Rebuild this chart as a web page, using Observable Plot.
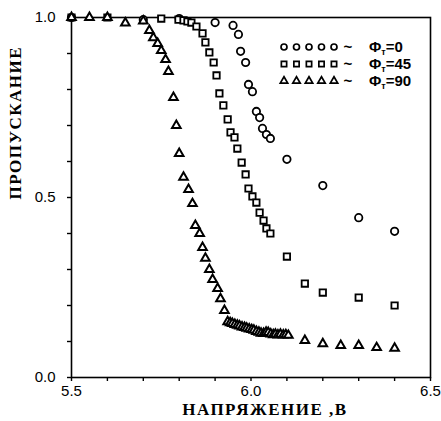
<!DOCTYPE html>
<html>
<head>
<meta charset="utf-8">
<script src="https://cdn.jsdelivr.net/npm/d3@7"></script>
<script src="https://cdn.jsdelivr.net/npm/@observablehq/plot@0.6"></script>
<style>
  html, body { margin: 0; padding: 0; background: #fff; }
  #chart { position: relative; width: 441px; height: 421px; }
</style>
</head>
<body>
<div id="chart"></div>
<script>
// ---- data (voltage in V, transmission) ----
const circV = [5.50, 5.70, 5.80, 5.90, 5.95, 5.965, 5.971, 5.985, 5.993, 6.004, 6.015, 6.024, 6.032, 6.043, 6.054, 6.10, 6.20, 6.30, 6.40];
const circT = [1.00, 0.994, 0.997, 0.986, 0.978, 0.953, 0.906, 0.875, 0.814, 0.794, 0.739, 0.722, 0.692, 0.675, 0.664, 0.606, 0.533, 0.444, 0.406];

const sqV = [5.50, 5.60, 5.75, 5.798, 5.812, 5.823, 5.834, 5.848, 5.865, 5.873, 5.884, 5.896, 5.904, 5.912, 5.923, 5.935, 5.943, 5.954, 5.962, 5.974, 5.985, 5.993, 6.004, 6.015, 6.024, 6.035, 6.043, 6.054, 6.10, 6.15, 6.20, 6.30, 6.40];
const sqT = [1.00, 1.00, 0.997, 0.994, 0.992, 0.989, 0.986, 0.975, 0.956, 0.931, 0.903, 0.875, 0.839, 0.789, 0.756, 0.717, 0.681, 0.667, 0.636, 0.597, 0.564, 0.525, 0.503, 0.486, 0.458, 0.436, 0.414, 0.400, 0.336, 0.261, 0.236, 0.222, 0.200];

const triV = [5.50, 5.55, 5.60, 5.65, 5.70, 5.717, 5.728, 5.74, 5.75, 5.762, 5.77, 5.784, 5.792, 5.80, 5.812, 5.826, 5.837, 5.845, 5.857, 5.865, 5.873, 5.884, 5.893, 5.907, 5.915, 5.926,
  5.935, 5.942, 5.948, 5.955, 5.962, 5.968, 5.975, 5.982, 5.988, 5.995, 6.002, 6.008, 6.015, 6.022, 6.028, 6.035, 6.042, 6.048, 6.055, 6.062, 6.068, 6.075, 6.082, 6.090, 6.097, 6.104,
  6.15, 6.20, 6.25, 6.30, 6.35, 6.40];
const triT = [1.00, 1.00, 1.00, 0.985, 0.99, 0.964, 0.944, 0.928, 0.908, 0.883, 0.85, 0.778, 0.70, 0.622, 0.556, 0.522, 0.483, 0.422, 0.40, 0.361, 0.331, 0.30, 0.272, 0.247, 0.219, 0.186,
  0.155, 0.152, 0.150, 0.147, 0.145, 0.143, 0.140, 0.139, 0.137, 0.135, 0.133, 0.131, 0.128, 0.126, 0.123, 0.122, 0.126, 0.125, 0.121, 0.119, 0.120, 0.118, 0.120, 0.118, 0.119, 0.117,
  0.103, 0.094, 0.089, 0.089, 0.083, 0.081];

const xTicks = [5.5, 5.6, 5.7, 5.8, 5.9, 6.0, 6.1, 6.2, 6.3, 6.4, 6.5];
const xTickLabels = ["5.5", "", "", "", "", "6.0", "", "", "", "", "6.5"];
const yTicks = [0, 0.1, 0.2, 0.3, 0.4, 0.5, 0.6, 0.7, 0.8, 0.9, 1.0];
const yTickLabels = ["0.0", "", "", "", "", "0.5", "", "", "", "", "1.0"];

const xTitle = "НАПРЯЖЕНИЕ ,В";
const yTitle = "ПРОПУСКАНИЕ";
const legendNames = ["0", "45", "90"];
const legendSymbols = ["circle", "square", "triangle"];

// ---- build ----
const zip = (V, T) => V.map((v, i) => ({v, t: T[i]}));
const circ = zip(circV, circT), sq = zip(sqV, sqT), tri = zip(triV, triT);

const sans = "Liberation Sans, Arial, sans-serif";
const serif = "Liberation Serif, Times New Roman, serif";
const dotStyle = {x: "v", y: "t", stroke: "black", fill: "white", strokeWidth: 1.8};

const chart = Plot.plot({
  width: 441,
  height: 421,
  marginLeft: 71,
  marginRight: 11,
  marginTop: 17,
  marginBottom: 44,
  style: {background: "white", color: "black"},
  x: {domain: [5.5, 6.5]},
  y: {domain: [0, 1]},
  marks: [
    Plot.frame({stroke: "black", strokeWidth: 1.6}),
    Plot.axisX({ticks: xTicks, tickFormat: (d, i) => xTickLabels[i], tickSize: 4, tickPadding: 4,
      fontSize: 15, fontFamily: sans, label: null, strokeWidth: 1.4}),
    Plot.axisY({ticks: yTicks, tickFormat: (d, i) => yTickLabels[i], tickSize: 4, tickPadding: 12,
      fontSize: 15, fontFamily: sans, label: null, strokeWidth: 1.4}),
    Plot.text([xTitle], {text: d => d, frameAnchor: "bottom", dy: 37, dx: 14, fontSize: 17,
      fontFamily: serif, fontWeight: "bold"}),
    Plot.text([yTitle], {text: d => d, frameAnchor: "left", dx: -56, dy: 2, rotate: -90, fontSize: 17,
      fontFamily: serif, fontWeight: "bold"}),
    Plot.dot(circ, {...dotStyle, symbol: "circle", r: 3.7}),
    Plot.dot(sq, {...dotStyle, symbol: "square", r: 3.6}),
    Plot.dot(tri, {...dotStyle, symbol: "triangle", r: 3.2, strokeWidth: 2})
  ]
});

document.getElementById("chart").appendChild(chart);
// letter-spacing for axis titles
d3.select(chart).selectAll("text").filter(function() { return this.textContent === xTitle || this.textContent === yTitle; })
  .style("letter-spacing", "1.5px");

// ---- legend (inside the frame, top right) ----
const svg = d3.select(chart);
const g = svg.append("g").attr("font-family", sans).attr("fill", "black").attr("text-anchor", "start");
legendNames.forEach((name, k) => {
  const cy = 47 + k * 17;
  const type = {circle: d3.symbolCircle, square: d3.symbolSquare, triangle: d3.symbolTriangle}[legendSymbols[k]];
  const size = legendSymbols[k] === "triangle" ? 24 : 28;
  for (let j = 0; j < 5; j++) {
    g.append("path")
      .attr("d", d3.symbol(type, size)())
      .attr("transform", `translate(${284 + j * 12.5},${cy})`)
      .attr("fill", "white").attr("stroke", "black").attr("stroke-width", 1.7);
  }
  g.append("text").attr("x", 348).attr("y", cy).attr("dy", "0.32em")
    .attr("text-anchor", "middle").style("font-size", "15px").attr("font-weight", "bold").text("~");
  const t = g.append("text").attr("x", 369).attr("y", cy).attr("dy", "0.36em").style("font-size", "15px")
    .attr("font-weight", "bold").attr("text-anchor", "start");
  t.append("tspan").text("Φ");
  t.append("tspan").style("font-size", "9px").attr("dy", 3).text("т");
  t.append("tspan").attr("dy", -3).text("=" + name);
});
</script>
</body>
</html>
